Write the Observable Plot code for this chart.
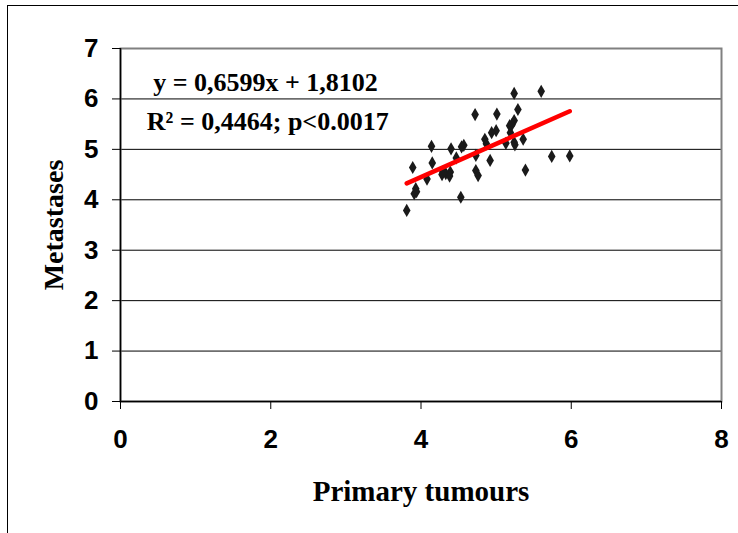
<!DOCTYPE html>
<html>
<head>
<meta charset="utf-8">
<script src="https://cdn.jsdelivr.net/npm/d3@7"></script>
<script src="https://cdn.jsdelivr.net/npm/@observablehq/plot@0.6"></script>
<style>
  html, body { margin: 0; padding: 0; background: #fff; }
  #wrap { position: relative; width: 738px; height: 533px; overflow: hidden; }
  #border { position: absolute; left: 7px; top: 5px; width: 760px; height: 560px; border: 1px solid #000; box-sizing: border-box; pointer-events: none; }
  #chart { position: absolute; left: 0; top: 0; }
  .ch g[aria-label="x-axis tick label"], .ch g[aria-label="y-axis tick label"],
  .ch g[aria-label="x-axis tick label"] text, .ch g[aria-label="y-axis tick label"] text {
    font-size: 26px !important; font-weight: bold !important; font-family: 'Liberation Sans', Arial, sans-serif !important; fill: #000;
  }
</style>
</head>
<body>
<div id="wrap">
  <div id="chart"></div>
  <div id="border"></div>
</div>
<script>
// Primary tumours (x) and Metastases (y)
const primary = [5.24, 5.60, 5.29, 4.72, 5.01, 5.24, 5.18, 5.21, 5.00, 4.94, 5.19, 4.85, 4.87, 5.13, 5.24, 5.25, 5.36,
  4.14, 4.40, 4.57, 4.54, 4.47, 4.73, 4.92, 5.74, 5.98, 4.15, 3.89, 4.29, 4.33, 4.39, 4.38, 4.28,
  4.73, 4.76, 5.39, 4.08, 3.93, 3.91, 3.94, 4.53, 3.81];
const metastases = [6.11, 6.15, 5.79, 5.69, 5.70, 5.57, 5.47, 5.49, 5.37, 5.33, 5.33, 5.20, 5.11, 5.12, 5.14, 5.09, 5.20,
  5.06, 5.01, 5.08, 5.05, 4.83, 4.88, 4.78, 4.86, 4.87, 4.73, 4.64, 4.55, 4.52, 4.55, 4.47, 4.50,
  4.58, 4.48, 4.59, 4.41, 4.22, 4.12, 4.16, 4.05, 3.79];
const slope = 0.6599;
const intercept = 1.8102;
const xTicks = [0, 2, 4, 6, 8];
const yTicks = [0, 1, 2, 3, 4, 5, 6, 7];
const gridValues = [1, 2, 3, 4, 5, 6];
const labels = ["y = 0,6599x + 1,8102", "R\u00B2 = 0,4464; p<0.0017"];

// annotation anchor positions (data units)
const labelX = [1.93, 1.96];
const labelY = [6.33, 5.55];

const points = primary.map((x, i) => ({x, y: metastases[i]}));
const xMin = d3.min(primary), xMax = d3.max(primary);
const fit = [xMin, xMax].map(x => ({x, y: slope * x + intercept}));
const ann = labels.map((t, i) => ({t, x: labelX[i], y: labelY[i]}));
const serif = "'Liberation Serif', 'Times New Roman', serif";

const plot = Plot.plot({
  className: "ch",
  width: 738,
  height: 533,
  marginLeft: 120,
  marginRight: 17,
  marginTop: 48,
  marginBottom: 132,
  style: {fontFamily: "'Liberation Sans', Arial, sans-serif", fontSize: "26px", fontWeight: "bold", background: "transparent", color: "#000"},
  x: {domain: [0, 8]},
  y: {domain: [0, 7]},
  marks: [
    Plot.ruleY(gridValues, {stroke: "#000", strokeWidth: 1}),
    Plot.frame({stroke: "#808080", strokeWidth: 2}),
    Plot.ruleY([0], {stroke: "#000", strokeWidth: 1.5}),
    Plot.ruleX([0], {stroke: "#000", strokeWidth: 1.5}),
    Plot.axisX(xTicks, {tickSize: 8, tickPadding: 20, fontSize: 26, fontWeight: "bold", fill: "#000", label: null, tickFormat: d => d}),
    Plot.axisY(yTicks, {tickSize: 8, tickPadding: 14, fontSize: 26, fontWeight: "bold", fill: "#000", label: null, tickFormat: d => d}),
    Plot.dot(points, {x: "x", y: "y", symbol: "diamond", r: 4, fill: "#1a1a1a", stroke: "none"}),
    Plot.line(fit, {x: "x", y: "y", stroke: "#ff0000", strokeWidth: 4.5}),
    Plot.text(ann, {x: "x", y: "y", text: "t", fontSize: 26, fontWeight: "bold", fill: "#000",
      fontFamily: serif, lineAnchor: "middle"}),
    Plot.text(["Primary tumours"], {frameAnchor: "bottom", dy: 90, fontSize: 29, fontWeight: "bold",
      fontFamily: serif, fill: "#000", lineAnchor: "middle"}),
    Plot.text(["Metastases"], {frameAnchor: "left", textAnchor: "middle", dx: -66, rotate: -90, fontSize: 28, fontWeight: "bold",
      fontFamily: serif, fill: "#000", lineAnchor: "middle"})
  ]
});
document.getElementById("chart").appendChild(plot);
</script>
</body>
</html>
